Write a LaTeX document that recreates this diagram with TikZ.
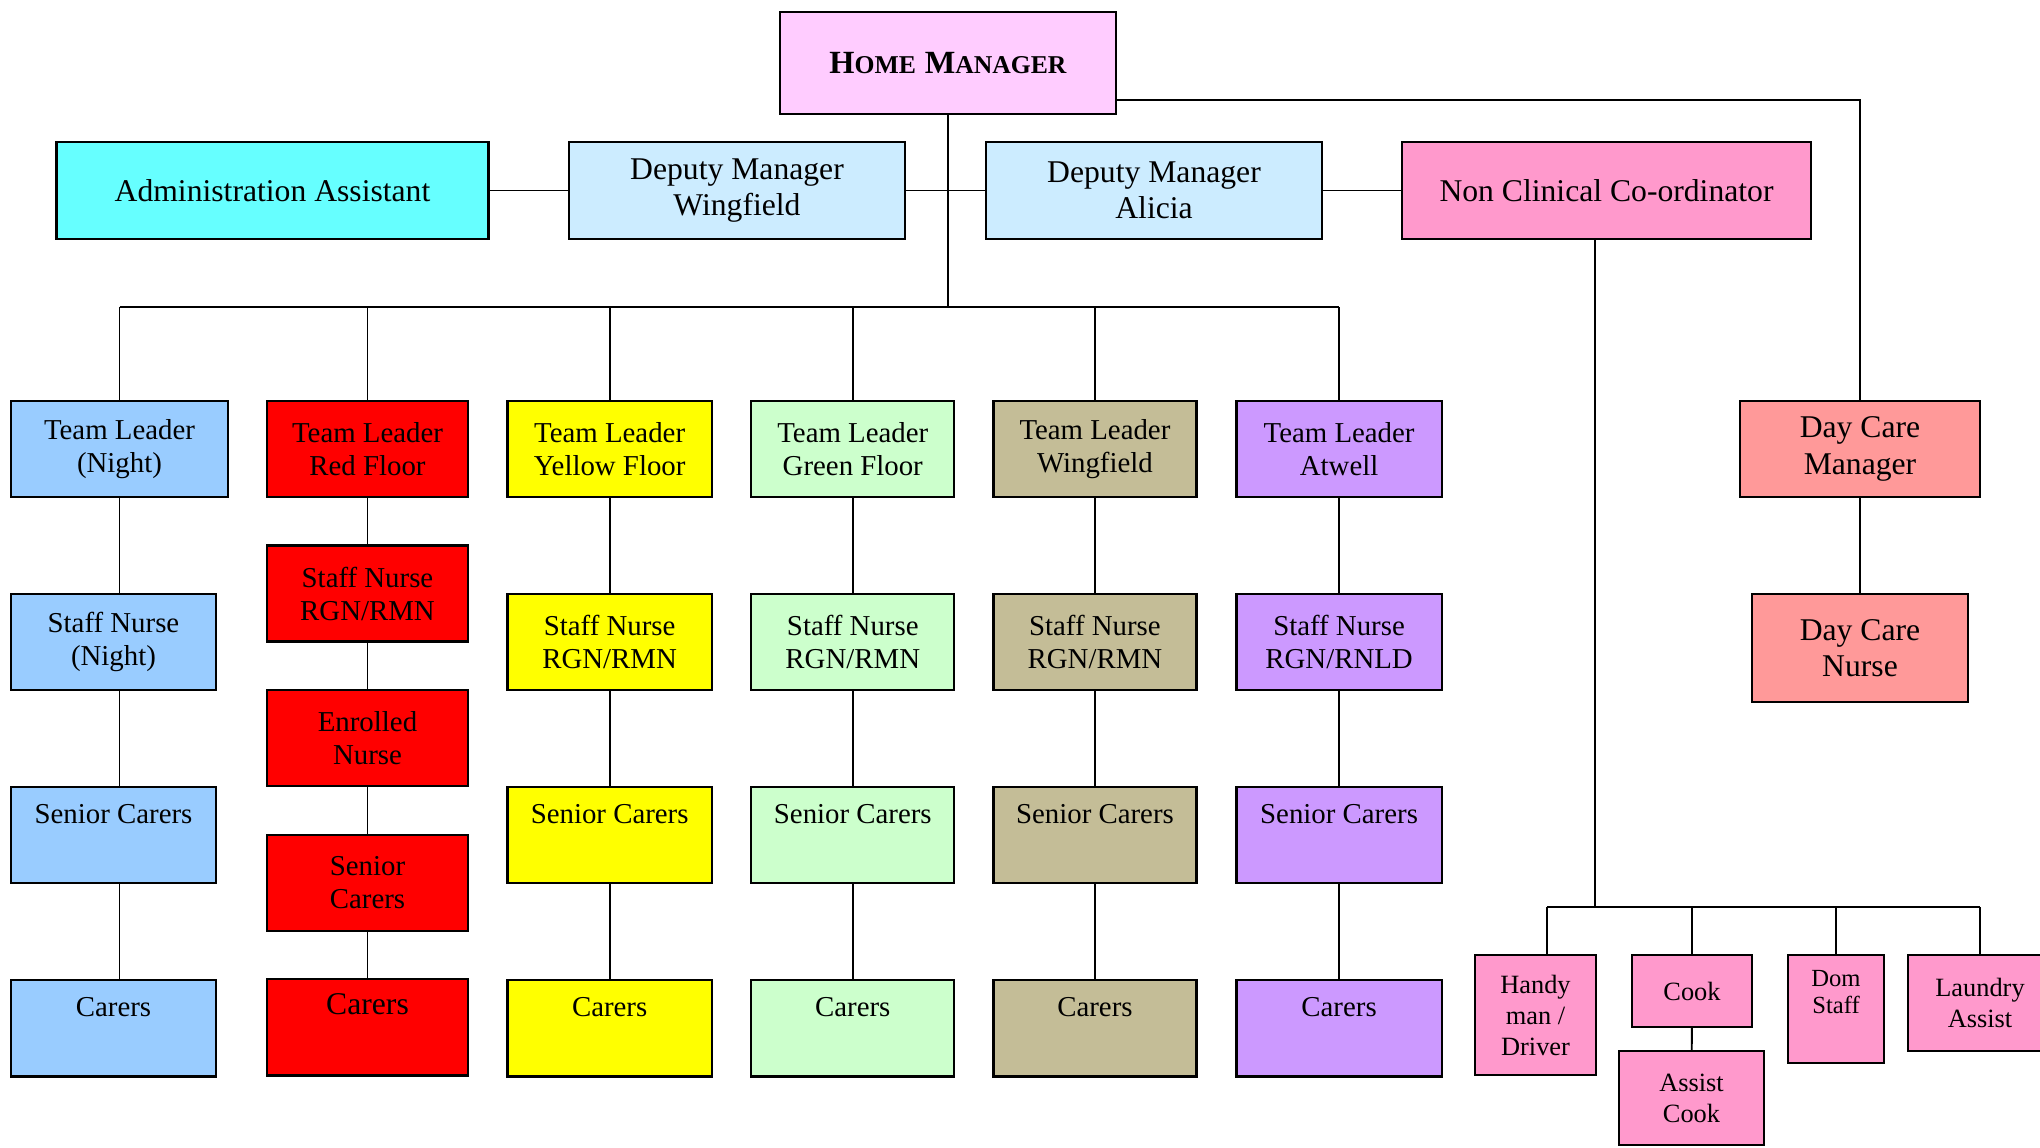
\documentclass[tikz,border=0pt]{standalone}
\usepackage{fontspec}
\setmainfont{Liberation Serif}
\usetikzlibrary{positioning}

\definecolor{hmpink}{HTML}{FFCCFF}
\definecolor{admincyan}{HTML}{66FFFF}
\definecolor{deputyblue}{HTML}{CCECFF}
\definecolor{ncpink}{HTML}{FF99CC}
\definecolor{nightblue}{HTML}{99CCFF}
\definecolor{floorred}{HTML}{FF0000}
\definecolor{flooryellow}{HTML}{FFFF00}
\definecolor{floorgreen}{HTML}{CCFFCC}
\definecolor{wingtan}{HTML}{C4BD97}
\definecolor{atwellviolet}{HTML}{CC99FF}
\definecolor{daycare}{HTML}{FF9999}

\newcommand{\topfont}{\fontsize{9}{10.3}\selectfont}
\newcommand{\colfont}{\fontsize{8.2}{9.4}\selectfont}
\newcommand{\pinkfont}{\fontsize{7.5}{8.8}\selectfont}
\newcommand{\capword}[2]{{\fontsize{9.2}{11}\selectfont #1}{\fontsize{7.3}{9}\selectfont #2}}

\begin{document}
\begin{tikzpicture}[x=0.01cm, y=-0.01cm, node distance=1.93cm,
  box/.style={draw, line width=0.65pt, inner sep=0pt, align=center},
  topbox/.style={box, font=\topfont, minimum height=0.97cm},
  colbox/.style={box, font=\colfont, minimum height=0.96cm},
  pinkbox/.style={box, font=\pinkfont, fill=ncpink},
  link/.style={line width=0.55pt}]
\clip (0,0) rectangle (2040,1147);

% management
\node[box, fill=hmpink, minimum width=3.36cm, minimum height=1.02cm, font=\bfseries] (hm) at (948,63) {\capword{H}{OME} \capword{M}{ANAGER}};
\node[topbox, fill=admincyan, minimum width=4.32cm] (admin) at (272.5,190.5) {Administration Assistant};
\node[topbox, fill=deputyblue, minimum width=3.36cm] (dmw) at (737,190.5) {Deputy Manager\\Wingfield};
\node[topbox, fill=deputyblue, minimum width=3.36cm] (dma) at (1154,190.5) {Deputy Manager\\Alicia};
\node[topbox, fill=ncpink, minimum width=4.09cm] (ncc) at (1606.5,190.5) {Non Clinical Co-ordinator};

% team leaders
\node[colbox, fill=nightblue, minimum width=2.17cm] (tln) at (119.5,449) {Team Leader\\(Night)};
\node[colbox, fill=floorred, minimum width=2.01cm] (tlr) at (367.5,449) {Team Leader\\Red Floor};
\node[colbox, fill=flooryellow, minimum width=2.04cm, right of=tlr, node distance=2.42cm] (tly) {Team Leader\\Yellow Floor};
\node[colbox, fill=floorgreen, minimum width=2.03cm, right of=tly, node distance=2.43cm] (tlg) {Team Leader\\Green Floor};
\node[colbox, fill=wingtan, minimum width=2.03cm, right of=tlg, node distance=2.42cm] (tlw) {Team Leader\\Wingfield};
\node[colbox, fill=atwellviolet, minimum width=2.05cm, right of=tlw, node distance=2.44cm] (tla) {Team Leader\\Atwell};

% night
\node[colbox, fill=nightblue, minimum width=2.05cm, below of=tln, xshift=-0.06cm] (snn) {Staff Nurse\\(Night)};
\node[colbox, fill=nightblue, minimum width=2.05cm, below of=snn] (scn) {Senior Carers\\\strut};
\node[colbox, fill=nightblue, minimum width=2.05cm, below of=scn] (cn) {Carers\\\strut};

% red floor
\node[colbox, fill=floorred, minimum width=2.01cm, below of=tlr, node distance=1.445cm] (snr) {Staff Nurse\\RGN/RMN};
\node[colbox, fill=floorred, minimum width=2.01cm, below of=snr, node distance=1.445cm] (enr) {Enrolled\\Nurse};
\node[colbox, fill=floorred, minimum width=2.01cm, below of=enr, node distance=1.445cm] (scr) {Senior\\Carers};
\node[colbox, fill=floorred, minimum width=2.01cm, below of=scr, node distance=1.445cm, font=\topfont] (cr) {Carers\\\strut};

% yellow floor
\node[colbox, fill=flooryellow, minimum width=2.04cm, below of=tly] (sny) {Staff Nurse\\RGN/RMN};
\node[colbox, fill=flooryellow, minimum width=2.04cm, below of=sny] (scy) {Senior Carers\\\strut};
\node[colbox, fill=flooryellow, minimum width=2.04cm, below of=scy] (cy) {Carers\\\strut};

% green floor
\node[colbox, fill=floorgreen, minimum width=2.03cm, below of=tlg] (sng) {Staff Nurse\\RGN/RMN};
\node[colbox, fill=floorgreen, minimum width=2.03cm, below of=sng] (scg) {Senior Carers\\\strut};
\node[colbox, fill=floorgreen, minimum width=2.03cm, below of=scg] (cg) {Carers\\\strut};

% wingfield
\node[colbox, fill=wingtan, minimum width=2.03cm, below of=tlw] (snw) {Staff Nurse\\RGN/RMN};
\node[colbox, fill=wingtan, minimum width=2.03cm, below of=snw] (scw) {Senior Carers\\\strut};
\node[colbox, fill=wingtan, minimum width=2.03cm, below of=scw] (cw) {Carers\\\strut};

% atwell
\node[colbox, fill=atwellviolet, minimum width=2.05cm, below of=tla] (sna) {Staff Nurse\\RGN/RNLD};
\node[colbox, fill=atwellviolet, minimum width=2.05cm, below of=sna] (sca) {Senior Carers\\\strut};
\node[colbox, fill=atwellviolet, minimum width=2.05cm, below of=sca] (ca) {Carers\\\strut};

% day care
\node[topbox, fill=daycare, minimum width=2.40cm, minimum height=0.96cm] (dcm) at (1860,449) {Day Care\\Manager};
\node[topbox, fill=daycare, minimum width=2.16cm, minimum height=1.08cm, below of=dcm, node distance=1.99cm] (dcn) {Day Care\\Nurse};

% non clinical staff
\node[pinkbox, minimum width=1.21cm, minimum height=1.20cm] (handy) at (1535.5,1015) {Handy\\man /\\Driver};
\node[pinkbox, minimum width=1.20cm, minimum height=0.72cm] (cook) at (1692,991) {Cook};
\node[pinkbox, minimum width=1.45cm, minimum height=0.94cm] (acook) at (1691.5,1098) {Assist\\Cook};
\node[pinkbox, minimum width=0.96cm, minimum height=1.08cm, font={\fontsize{7}{7.6}\selectfont}] (dom) at (1836,1009) {Dom\\Staff\\\strut};
\node[pinkbox, minimum width=1.44cm, minimum height=0.96cm] (laundry) at (1980,1003) {Laundry\\Assist};

\coordinate (bus) at (948,307);
\coordinate (cbus) at (1595,907);
\coordinate (hdrop) at ([xshift=0.115cm]handy.north);

\draw[link] (hm) -- (bus);
\draw[link] (admin) -- (dmw) (dmw) -- (dma) (dma) -- (ncc);
\draw[link] ([yshift=-0.37cm]hm.east) -| (dcm);
\draw[link] (dcm) -- (dcn);
\draw[link] (bus -| tln) -- (bus -| tla);
\draw[link] (bus -| tln) -- (tln) (bus -| tlr) -- (tlr) (bus -| tly) -- (tly)
            (bus -| tlg) -- (tlg) (bus -| tlw) -- (tlw) (bus -| tla) -- (tla);
\draw[link] (tln) -- (tln |- snn.north) (snn.south -| tln) -- (scn.north -| tln)
            (scn.south -| tln) -- (cn.north -| tln);
\draw[link] (tlr) -- (snr) (snr) -- (enr) (enr) -- (scr) (scr) -- (cr);
\draw[link] (tly) -- (sny) (sny) -- (scy) (scy) -- (cy);
\draw[link] (tlg) -- (sng) (sng) -- (scg) (scg) -- (cg);
\draw[link] (tlw) -- (snw) (snw) -- (scw) (scw) -- (cw);
\draw[link] (tla) -- (sna) (sna) -- (sca) (sca) -- (ca);
\draw[link] (cbus |- ncc.south) -- (cbus);
\draw[link] (cbus -| hdrop) -- (cbus -| laundry);
\draw[link] (cbus -| hdrop) -- (hdrop) (cbus -| cook) -- (cook)
            (cbus -| dom) -- (dom) (cbus -| laundry) -- (laundry);
\draw[link] (cook) -- (acook);
\end{tikzpicture}
\end{document}
